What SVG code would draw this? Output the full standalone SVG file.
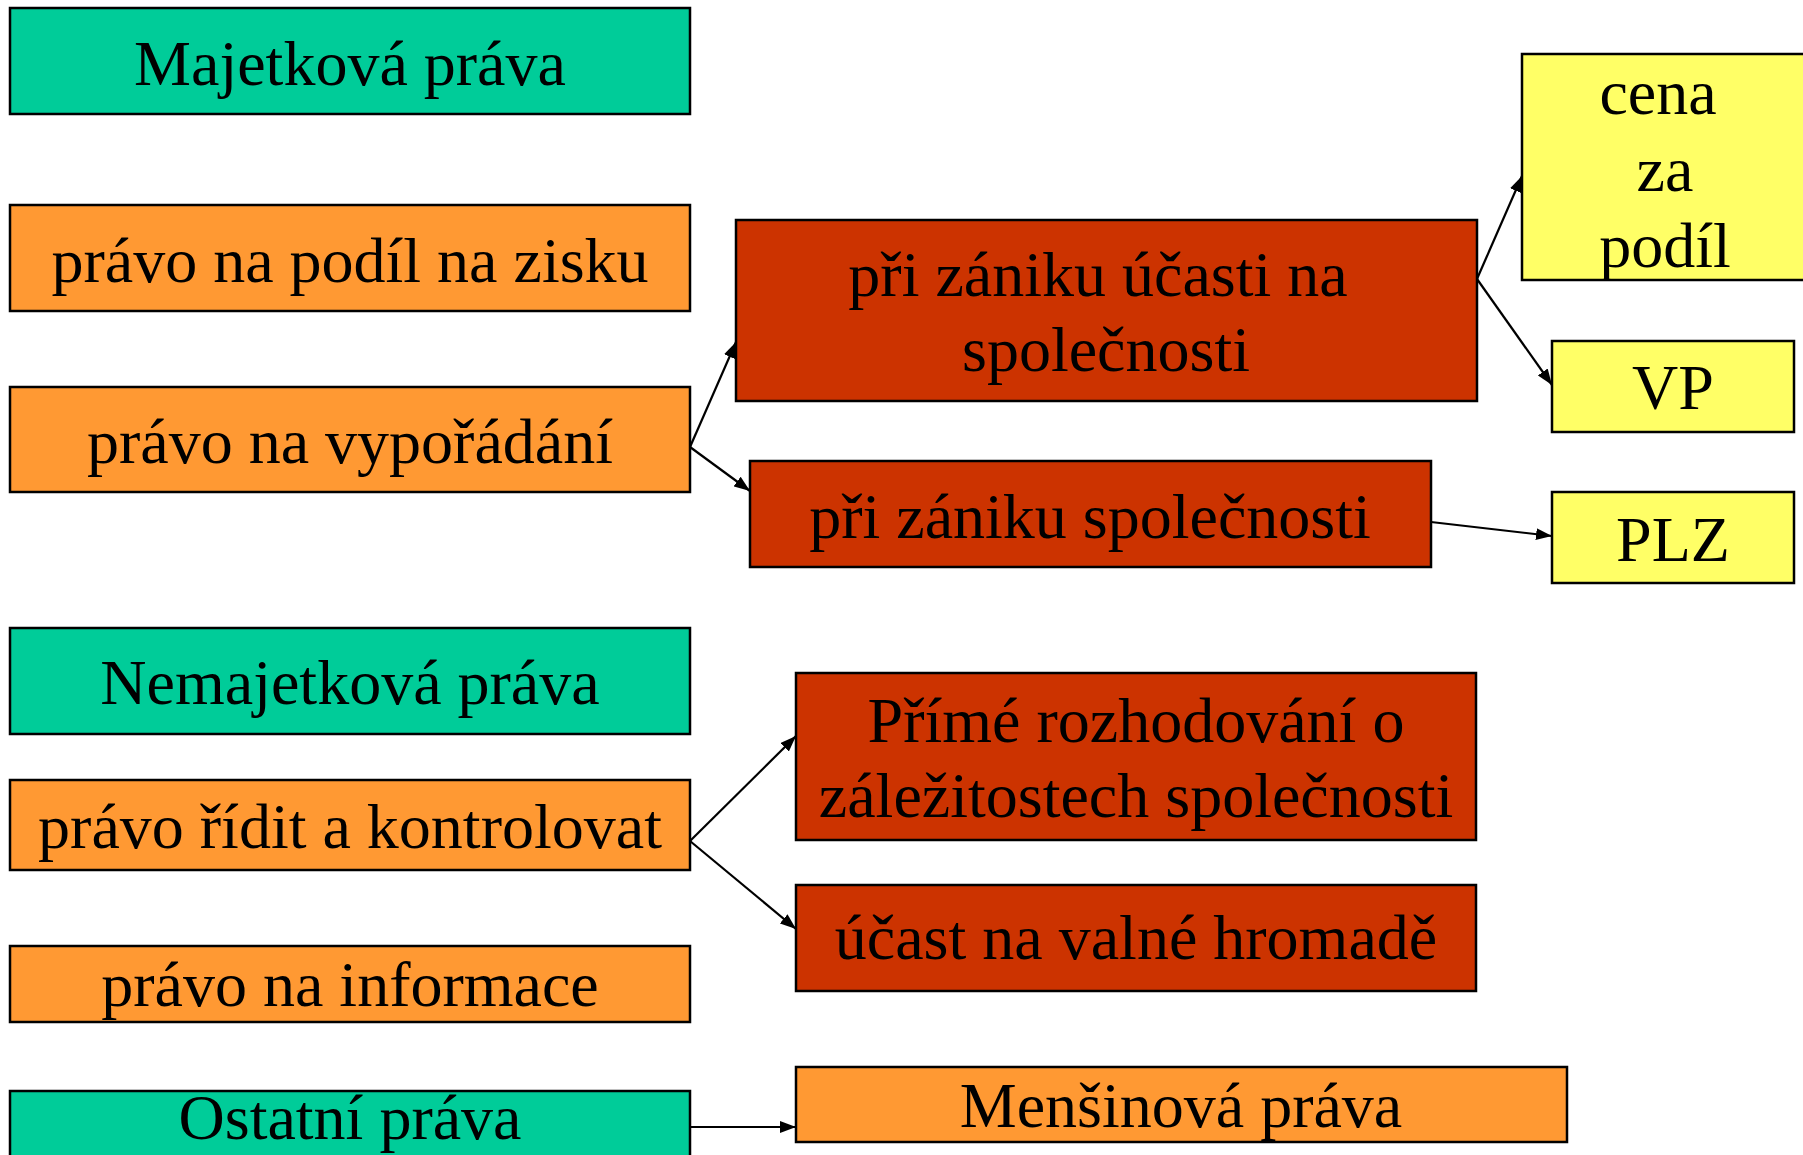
<svg xmlns="http://www.w3.org/2000/svg" width="1803" height="1155" viewBox="0 0 1803 1155">
<defs>
<style>
.box{stroke:#000;stroke-width:2.5}
.g{fill:#00CC99}.o{fill:#FF9933}.r{fill:#CC3300}.y{fill:#FFFF66}
text{font-family:"Liberation Serif","Times New Roman",serif;font-size:64px;fill:#000;text-anchor:middle}
.c{stroke:#000;stroke-width:2.2;fill:none;marker-end:url(#ah)}
</style>
<marker id="ah" markerUnits="userSpaceOnUse" markerWidth="17" markerHeight="12" refX="16" refY="6" orient="auto">
<path d="M0,0 L16,6 L0,12 z" fill="#000"/>
</marker>
</defs>
<rect width="1803" height="1155" fill="#fff"/>
<g id="connectors">
<line class="c" x1="690" y1="447" x2="736" y2="342"/>
<line class="c" x1="690" y1="447" x2="750" y2="491"/>
<line class="c" x1="1477" y1="279" x2="1522" y2="176"/>
<line class="c" x1="1477" y1="279" x2="1552" y2="385"/>
<line class="c" x1="1431" y1="522" x2="1552" y2="536"/>
<line class="c" x1="690" y1="841" x2="796" y2="736"/>
<line class="c" x1="690" y1="841" x2="796" y2="929"/>
<line class="c" x1="690" y1="1127" x2="796" y2="1127"/>
</g>
<g id="majetkova"><rect class="box g" x="10" y="8" width="680" height="106"/><text x="350" y="85">Majetková práva</text></g>
<g id="podil-zisk"><rect class="box o" x="10" y="205" width="680" height="106"/><text x="350" y="282">právo na podíl na zisku</text></g>
<g id="vyporadani"><rect class="box o" x="10" y="387" width="680" height="105"/><text x="350" y="463">právo na vypořádání</text></g>
<g id="zanik-ucasti"><rect class="box r" x="736" y="220" width="741" height="181"/><text x="1098" y="296">při zániku účasti na</text><text x="1106" y="371">společnosti</text></g>
<g id="cena"><rect class="box y" x="1522" y="54" width="290" height="226"/><text x="1658" y="114">cena</text><text x="1665" y="191">za</text><text x="1665" y="267">podíl</text></g>
<g id="vp"><rect class="box y" x="1552" y="341" width="242" height="91"/><text x="1673" y="409">VP</text></g>
<g id="zanik-spol"><rect class="box r" x="750" y="461" width="681" height="106"/><text x="1090" y="538">při zániku společnosti</text></g>
<g id="plz"><rect class="box y" x="1552" y="492" width="242" height="91"/><text x="1673" y="561">PLZ</text></g>
<g id="nemajetkova"><rect class="box g" x="10" y="628" width="680" height="106"/><text x="350" y="704">Nemajetková práva</text></g>
<g id="ridit"><rect class="box o" x="10" y="780" width="680" height="90"/><text x="350" y="848">právo řídit a kontrolovat</text></g>
<g id="prime"><rect class="box r" x="796" y="673" width="680" height="167"/><text x="1136" y="742">Přímé rozhodování o</text><text x="1136" y="817">záležitostech společnosti</text></g>
<g id="ucast"><rect class="box r" x="796" y="885" width="680" height="106"/><text x="1136" y="959">účast na valné hromadě</text></g>
<g id="informace"><rect class="box o" x="10" y="946" width="680" height="76"/><text x="350" y="1006">právo na informace</text></g>
<g id="ostatni"><rect class="box g" x="10" y="1091" width="680" height="106"/><text x="350" y="1139">Ostatní práva</text></g>
<g id="mensinova"><rect class="box o" x="796" y="1067" width="771" height="75"/><text x="1181" y="1127">Menšinová práva</text></g>
</svg>
